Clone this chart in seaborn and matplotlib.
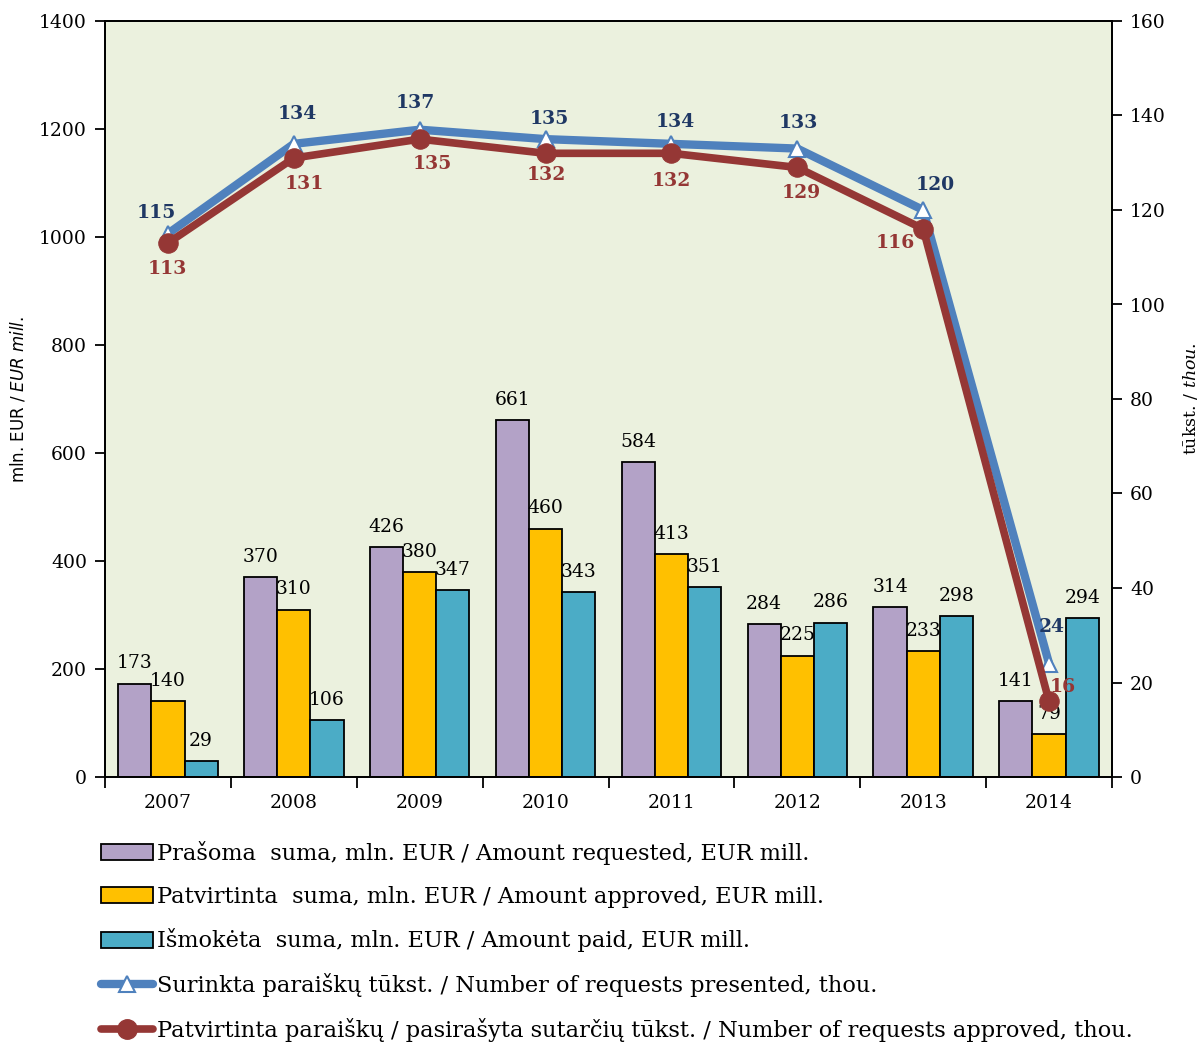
import numpy as np
import pandas as pd
import matplotlib
matplotlib.use("Agg")
import matplotlib.pyplot as plt
import seaborn as sns
from matplotlib.patches import Patch
from matplotlib.lines import Line2D

# ---------------- data ----------------
years = ["2007", "2008", "2009", "2010", "2011", "2012", "2013", "2014"]
amount_requested = [173, 370, 426, 661, 584, 284, 314, 141]
amount_approved = [140, 310, 380, 460, 413, 225, 233, 79]
amount_paid = [29, 106, 347, 343, 351, 286, 298, 294]
requests_presented = [115, 134, 137, 135, 134, 133, 120, 24]
requests_approved = [113, 131, 135, 132, 132, 129, 116, 16]

bar_names = [
    "Prašoma  suma, mln. EUR / Amount requested, EUR mill.",
    "Patvirtinta  suma, mln. EUR / Amount approved, EUR mill.",
    "Išmokėta  suma, mln. EUR / Amount paid, EUR mill.",
]
line_names = [
    "Surinkta paraiškų tūkst. / Number of requests presented, thou.",
    "Patvirtinta paraiškų / pasirašyta sutarčių tūkst. / Number of requests approved, thou.",
]

# styling
bar_colors = ["#B3A2C7", "#FFC000", "#4BACC6"]
blue = "#4F81BD"
blue_txt = "#1F3864"
red = "#953735"
# label offsets in pixels (dx, dy) for line labels
blue_off = [(-12, 21), (4, 30), (-4, 27), (4, 20), (4, 22), (1, 26), (12, 25), (3, 37)]
red_off = [(-1, -26), (11, -26), (13, -25), (1, -22), (0, -28), (4, -26), (-28, -14), (14, 14)]

sns.set_style("ticks")
plt.rcParams["font.family"] = ["DejaVu Serif"]
for k in ["text.color", "axes.labelcolor", "xtick.color", "ytick.color"]:
    plt.rcParams[k] = "black"

fig = plt.figure(figsize=(12.03, 10.42), dpi=100)
L, R, B, T = 105 / 1203, 1112 / 1203, 1 - 777 / 1042, 1 - 21 / 1042
ax = fig.add_axes([L, B, R - L, T - B])

df = pd.DataFrame({
    "year": years * 3,
    "value": amount_requested + amount_approved + amount_paid,
    "series": [bar_names[0]] * 8 + [bar_names[1]] * 8 + [bar_names[2]] * 8,
})
sns.barplot(data=df, x="year", y="value", hue="series", hue_order=bar_names,
            palette=bar_colors, saturation=1, edgecolor="black", linewidth=1.3,
            width=0.79, ax=ax, legend=False)
ax.set_facecolor("#EBF1DE")
ax.set_xlim(-0.5, 7.5)
ax.set_ylim(0, 1400)
ax.set_yticks(np.arange(0, 1401, 200))
ax.set_xlabel("")
ax.set_ylabel("")
for c in ax.containers:
    ax.bar_label(c, padding=8, fontsize=13.5, color="black")

ax.set_xticks(range(8))
ax.set_xticklabels(years)
ax.tick_params(axis="x", which="major", length=0, pad=12, labelsize=13.5)
ax.set_xticks(np.arange(-0.5, 8, 1), minor=True)
ax.tick_params(axis="x", which="minor", length=8, width=1.3, direction="out")
ax.tick_params(axis="y", length=7, width=1.3, direction="out", labelsize=13.5, pad=6)
for s in ax.spines.values():
    s.set_color("black")
    s.set_linewidth(1.3)

ax2 = ax.twinx()
x = np.arange(len(years))
sns.lineplot(x=x, y=requests_presented, ax=ax2, color=blue, lw=6, marker="^",
             markersize=12, markerfacecolor="white", markeredgecolor=blue,
             markeredgewidth=1.5, zorder=3)
sns.lineplot(x=x, y=requests_approved, ax=ax2, color=red, lw=5.5, marker="o",
             markersize=14, markerfacecolor=red, markeredgecolor=red, zorder=4)
ax2.set_ylim(0, 160)
ax2.set_yticks(np.arange(0, 161, 20))
ax2.tick_params(axis="y", length=7, width=1.3, direction="out", labelsize=13.5, pad=6)
for s in ax2.spines.values():
    s.set_color("black")
    s.set_linewidth(1.3)
ax2.set_xlim(-0.5, 7.5)

for i, v in enumerate(requests_presented):
    ax2.annotate(f"{v}", (i, v), xytext=blue_off[i], textcoords="offset pixels",
                 ha="center", va="center", fontsize=13.5, fontweight="bold",
                 color=blue_txt, zorder=6)
for i, v in enumerate(requests_approved):
    ax2.annotate(f"{v}", (i, v), xytext=red_off[i], textcoords="offset pixels",
                 ha="center", va="center", fontsize=13.5, fontweight="bold",
                 color=red, zorder=6)

# axis titles
fig.text(18 / 1203, 1 - 399 / 1042, r"mln. EUR / $\it{EUR\ mill.}$", rotation=90,
         ha="center", va="center", fontsize=12, family="DejaVu Sans",
         math_fontfamily="dejavusans")
fig.text(1190 / 1203, 1 - 399 / 1042, r"tūkst. / $\it{thou.}$", rotation=90,
         ha="center", va="center", fontsize=12.5, family="DejaVu Serif",
         math_fontfamily="dejavuserif")

handles = [Patch(facecolor=c, edgecolor="black", linewidth=1.3) for c in bar_colors]
handles += [
    Line2D([], [], color=blue, lw=6, marker="^", markersize=12,
           markerfacecolor="white", markeredgecolor=blue, markeredgewidth=1.5),
    Line2D([], [], color=red, lw=5.5, marker="o", markersize=14,
           markerfacecolor=red, markeredgecolor=red),
]
fig.legend(handles, bar_names + line_names, loc="upper left",
           bbox_to_anchor=(101 / 1203, 1 - 841 / 1042), frameon=False,
           fontsize=16.2, handlelength=2.3, handleheight=0.72, handletextpad=0.2,
           labelspacing=0.92, borderpad=0, borderaxespad=0, labelcolor="black")

fig.savefig("out.png", dpi=100, facecolor="white")
